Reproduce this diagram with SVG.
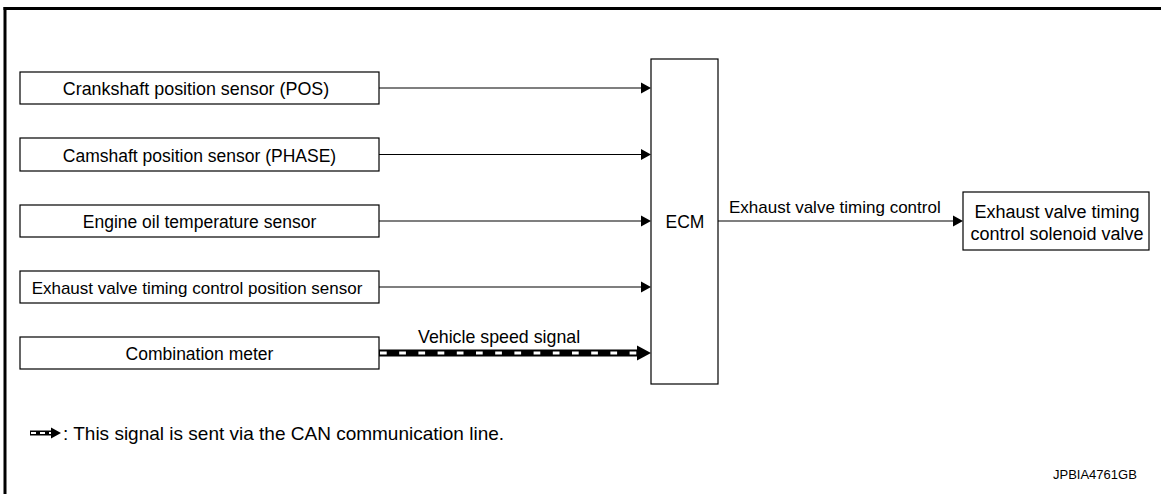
<svg xmlns="http://www.w3.org/2000/svg" width="1161" height="494" viewBox="0 0 1161 494">
  <defs>
    <style>
      .box { fill: #fff; stroke: #000; stroke-width: 1.2; }
      .t { font-family: "Liberation Sans", Arial, Helvetica, sans-serif; font-size: 17.5px; fill: #000; }
      .c { text-anchor: middle; }
      .wire { stroke: #000; stroke-width: 1.2; fill: none; }
      .head { fill: #000; }
    </style>
  </defs>
  <rect x="0" y="0" width="1161" height="494" fill="#fff"/>
  <g id="frame">
    <rect x="3.5" y="7" width="1157.5" height="3" fill="#000"/>
    <rect x="3.5" y="7" width="3" height="487" fill="#000"/>
  </g>

  <g id="node-crankshaft">
    <rect class="box" x="20" y="72" width="359" height="32"/>
    <text class="t c" x="196" y="95" style="font-size:17.9px">Crankshaft position sensor (POS)</text>
  </g>
  <g id="node-camshaft">
    <rect class="box" x="20" y="138" width="359" height="33"/>
    <text class="t c" x="199.5" y="161.5">Camshaft position sensor (PHASE)</text>
  </g>
  <g id="node-oiltemp">
    <rect class="box" x="20" y="205" width="359" height="32"/>
    <text class="t c" x="199.5" y="228">Engine oil temperature sensor</text>
  </g>
  <g id="node-evtc-pos">
    <rect class="box" x="20" y="271" width="359" height="32"/>
    <text class="t c" x="197" y="294" style="font-size:17px">Exhaust valve timing control position sensor</text>
  </g>
  <g id="node-combmeter">
    <rect class="box" x="20" y="337" width="359" height="32"/>
    <text class="t c" x="199.5" y="360">Combination meter</text>
  </g>
  <g id="node-ecm">
    <rect class="box" x="651" y="59" width="67" height="325"/>
    <text class="t c" x="685" y="228">ECM</text>
  </g>
  <g id="node-solenoid">
    <rect class="box" x="963" y="192" width="186" height="58"/>
    <text class="t c" x="1057" y="218" style="font-size:18px">Exhaust valve timing</text>
    <text class="t c" x="1057" y="240" style="font-size:18px">control solenoid valve</text>
  </g>

  <g id="connectors">
    <line class="wire" x1="379" y1="88" x2="642" y2="88"/>
    <polygon class="head" points="641,82.5 651,88 641,93.5"/>
    <line class="wire" x1="379" y1="154.5" x2="642" y2="154.5"/>
    <polygon class="head" points="641,149 651,154.5 641,160"/>
    <line class="wire" x1="379" y1="221" x2="642" y2="221"/>
    <polygon class="head" points="641,215.5 651,221 641,226.5"/>
    <line class="wire" x1="379" y1="287" x2="642" y2="287"/>
    <polygon class="head" points="641,281.5 651,287 641,292.5"/>
    <line x1="379" y1="353" x2="640" y2="353" stroke="#000" stroke-width="7"/>
    <line x1="380" y1="353" x2="637" y2="353" stroke="#fff" stroke-width="3" stroke-dasharray="6.7 12.5"/>
    <polygon class="head" points="637,345.5 651,353 637,360.5"/>
    <text class="t" x="418" y="343" style="font-size:17.8px">Vehicle speed signal</text>
    <line class="wire" x1="718" y1="221" x2="954" y2="221"/>
    <polygon class="head" points="953,215.5 963,221 953,226.5"/>
    <text class="t" x="729" y="213" style="font-size:17px">Exhaust valve timing control</text>
  </g>

  <g id="legend">
    <line x1="30" y1="433" x2="53" y2="433" stroke="#000" stroke-width="5"/>
    <line x1="31" y1="433" x2="52" y2="433" stroke="#fff" stroke-width="2" stroke-dasharray="5 4"/>
    <polygon class="head" points="51,427.5 61,433 51,438.5"/>
    <text class="t" x="63" y="440" style="font-size:19px">: This signal is sent via the CAN communication line.</text>
  </g>
  <text id="ref" x="1053" y="479" font-family="Liberation Sans, Arial, sans-serif" font-size="13" fill="#000">JPBIA4761GB</text>
</svg>
